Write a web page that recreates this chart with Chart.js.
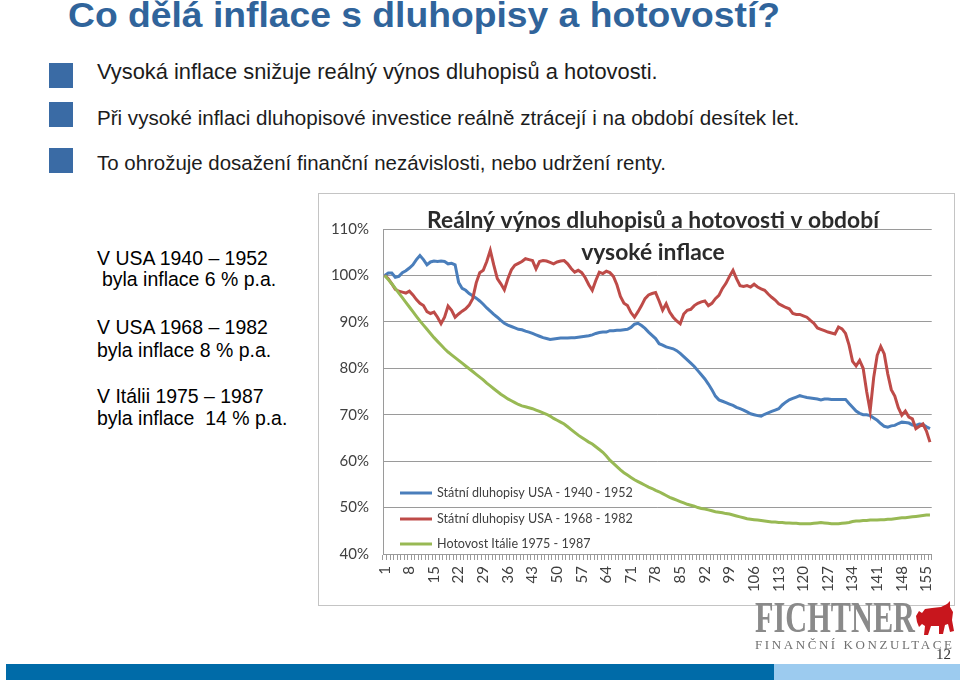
<!DOCTYPE html>
<html>
<head>
<meta charset="utf-8">
<script src="https://cdn.jsdelivr.net/npm/chart.js@4.4.1/dist/chart.umd.min.js"></script>
<style>
html,body{margin:0;padding:0;background:#fff;}
body{width:960px;height:680px;position:relative;overflow:hidden;font-family:"Liberation Sans",Arial,sans-serif;}
.abs{position:absolute;white-space:nowrap;}
#title{left:68px;top:-3px;font-family:"Liberation Sans",Arial,sans-serif;font-weight:bold;font-size:35px;line-height:35px;color:#30649B;transform-origin:0 0;}
.sq{position:absolute;left:49px;width:24px;height:25px;background:#3A6BA5;}
.bl{left:97px;font-size:17.5px;line-height:20px;color:#1c1c1c;}
.lt{font-size:17.5px;line-height:20px;color:#000;}
#box{position:absolute;left:318px;top:193px;width:637px;height:413px;border:1px solid #c4c4c4;box-sizing:border-box;background:#fff;}
#box canvas{display:block;}
#logo{left:755px;top:596px;font-family:"Liberation Serif","DejaVu Serif",serif;font-weight:bold;font-size:44px;line-height:44px;color:#8a8a8a;transform-origin:0 0;}
#logo2{left:755px;top:638px;font-family:"Liberation Serif","DejaVu Serif",serif;font-size:13px;line-height:14px;color:#707070;}
#page{left:936px;top:646px;font-family:"Liberation Serif","DejaVu Serif",serif;font-size:15px;line-height:16px;color:#333;}
.bar{position:absolute;top:664px;height:16px;}
</style>
</head>
<body>
<div id="title" class="abs">Co dělá inflace s dluhopisy a hotovostí?</div>

<div class="sq" style="top:63px"></div>
<div class="sq" style="top:102px"></div>
<div class="sq" style="top:148px"></div>
<div id="b1" class="abs bl" style="top:62px">Vysoká inflace snižuje reálný výnos dluhopisů a hotovosti.</div>
<div id="b2" class="abs bl" style="top:108px">Při vysoké inflaci dluhopisové investice reálně ztrácejí i na období desítek let.</div>
<div id="b3" class="abs bl" style="top:153px">To ohrožuje dosažení finanční nezávislosti, nebo udržení renty.</div>

<div id="l1" class="abs lt" style="left:97px;top:248px">V USA 1940 – 1952</div>
<div id="l2" class="abs lt" style="left:102px;top:269px">byla inflace 6 % p.a.</div>
<div id="l3" class="abs lt" style="left:97px;top:317px">V USA 1968 – 1982</div>
<div id="l4" class="abs lt" style="left:97px;top:340px">byla inflace 8 % p.a.</div>
<div id="l5" class="abs lt" style="left:97px;top:386px">V Itálii 1975 – 1987</div>
<div id="l6" class="abs lt" style="left:97px;top:408px">byla inflace &nbsp;14 % p.a.</div>

<div id="box"><canvas id="c" width="635" height="411"></canvas></div>

<div id="logo" class="abs">FICHTNER</div>
<svg class="abs" style="left:914px;top:601px" width="42" height="36" viewBox="0 0 42 36">
<path fill="#C8161D" d="M2 15 L5 10 L8 12 L11 8 L18 7 L27 6 L33 3 L36 0 L36 6 L39 11 L38 19 L40 30 L36 31 L34 23 L31 24 L29 33 L25 33 L25 25 L17 25 L14 34 L10 34 L11 25 L8 23 L5 26 L3 21 Z"/>
</svg>
<div id="logo2" class="abs">FINANČNÍ KONZULTACE</div>
<div id="page" class="abs">12</div>

<div class="bar" style="left:6px;width:768px;background:#006BA8"></div>
<div class="bar" style="left:774px;width:186px;background:#9CCBEF"></div>

<script>
// ---- data ----
const categories = Array.from({length:156}, (_, i) => String(i + 1));
const tickLabels = ['1','8','15','22','29','36','43','50','57','64','71','78','85','92','99','106','113','120','127','134','141','148','155'];
const seriesNames = ['Státní dluhopisy USA - 1940 - 1952','Státní dluhopisy USA - 1968 - 1982','Hotovost Itálie 1975 - 1987'];

const usa1940 = [100.0,100.5,100.5,99.6,99.8,100.6,101.0,101.6,102.3,103.4,
104.3,103.4,102.3,102.9,103.1,103.0,103.1,103.0,102.5,102.6,
102.3,98.5,97.2,96.8,96.1,95.6,95.1,94.5,93.8,93.0,
92.3,91.6,91.0,90.3,89.7,89.3,89.0,88.7,88.4,88.3,
88.0,87.8,87.5,87.2,86.9,86.6,86.4,86.2,86.3,86.4,
86.5,86.5,86.5,86.6,86.6,86.7,86.8,86.9,87.0,87.2,
87.5,87.7,87.8,87.8,88.1,88.1,88.2,88.2,88.3,88.4,
88.8,89.5,89.7,89.2,88.6,87.8,87.1,86.4,85.3,85.0,
84.6,84.4,84.2,83.8,83.2,82.5,81.8,81.1,80.4,79.5,
78.6,77.7,76.6,75.4,74.0,73.2,72.9,72.6,72.3,72.0,
71.6,71.3,71.0,70.6,70.2,70.0,69.8,69.7,70.1,70.4,
70.7,71.0,71.3,72.1,72.7,73.2,73.5,73.8,74.1,73.9,
73.7,73.6,73.5,73.4,73.2,73.4,73.4,73.3,73.3,73.3,
73.3,73.3,72.4,71.6,70.8,70.3,70.0,70.0,69.8,69.3,
68.8,68.1,67.5,67.3,67.6,67.7,68.1,68.4,68.3,68.2,
67.8,67.7,68.0,67.9,67.4,67.0];

const usa1968 = [100.0,99.3,98.2,97.0,96.6,96.4,96.2,96.6,95.8,94.8,
94.0,93.5,92.2,91.8,92.1,91.0,89.6,91.0,93.4,92.5,
91.0,91.7,92.3,92.8,93.6,95.0,98.4,100.6,101.1,103.0,
105.4,102.2,99.3,98.2,96.9,99.3,101.2,102.2,102.6,103.0,
103.6,103.4,103.2,101.4,103.0,103.2,103.1,102.8,102.5,102.9,
103.1,103.2,102.5,101.5,100.7,101.1,100.6,99.5,98.0,96.8,
98.9,100.7,100.4,100.9,100.6,99.8,98.0,95.5,94.0,93.5,
92.0,91.0,92.2,93.5,95.0,95.8,96.1,96.3,94.5,92.5,
93.9,92.1,91.0,90.2,89.6,91.7,92.5,92.7,93.5,94.0,
94.3,94.5,93.5,94.0,95.0,95.7,97.2,98.3,99.8,101.1,
99.3,97.8,97.6,97.8,97.5,98.1,97.5,97.1,96.8,96.0,
95.3,94.7,93.9,93.5,93.1,92.8,91.8,91.6,91.6,91.3,
91.0,90.3,89.7,88.7,88.4,88.1,87.8,87.6,87.4,88.9,
88.5,87.5,85.0,81.5,80.5,81.7,80.0,75.0,70.8,78.0,
82.8,84.7,83.1,78.8,75.4,74.0,71.5,69.9,70.8,69.5,
69.1,67.0,67.5,68.0,66.5,64.1];

const italy1975 = [100.0,99.1,98.2,97.2,96.2,95.2,94.2,93.2,92.2,91.2,
90.2,89.3,88.4,87.5,86.6,85.8,85.0,84.2,83.5,82.9,
82.3,81.7,81.1,80.5,79.9,79.3,78.7,78.1,77.5,76.8,
76.2,75.6,75.0,74.4,73.9,73.4,73.0,72.6,72.2,71.9,
71.7,71.5,71.3,71.0,70.7,70.4,70.1,69.7,69.2,68.8,
68.4,68.0,67.4,66.8,66.2,65.6,65.1,64.6,64.1,63.7,
63.1,62.5,61.9,61.1,60.2,59.5,58.8,58.1,57.5,57.0,
56.5,56.0,55.6,55.2,54.8,54.4,54.1,53.7,53.4,53.0,
52.6,52.2,51.9,51.6,51.3,51.0,50.7,50.5,50.3,50.0,
49.8,49.7,49.5,49.3,49.1,49.0,48.9,48.7,48.6,48.4,
48.2,48.0,47.8,47.6,47.5,47.4,47.3,47.2,47.1,47.0,
46.9,46.9,46.8,46.8,46.7,46.7,46.6,46.6,46.5,46.5,
46.5,46.5,46.6,46.7,46.8,46.7,46.6,46.5,46.5,46.5,
46.6,46.7,46.8,47.0,47.1,47.1,47.2,47.2,47.3,47.3,
47.3,47.4,47.4,47.5,47.5,47.6,47.7,47.8,47.8,47.9,
48.0,48.1,48.2,48.3,48.4,48.4];

const yTicks = [40,50,60,70,80,90,100,110];
const chartTitleLines = ['Reálný výnos dluhopisů a hotovosti v období','vysoké inflace'];

// ---- text fitting for the slide text ----
function fitFont(id, target){
  const el = document.getElementById(id);
  const w = el.getBoundingClientRect().width;
  const fs = parseFloat(getComputedStyle(el).fontSize);
  const nfs = fs * target / w;
  el.style.fontSize = nfs + 'px';
  return nfs;
}
function fitScale(id, target){
  const el = document.getElementById(id);
  const w = el.getBoundingClientRect().width;
  el.style.transform = 'scaleX(' + (target / w) + ')';
}
fitScale('title', 712);
fitFont('b1', 561); fitFont('b2', 703); fitFont('b3', 569);
const leftSize = fitFont('l1', 171);
['l2','l3','l4','l5','l6'].forEach(id => { document.getElementById(id).style.fontSize = leftSize + 'px'; });
fitScale('logo', 160);
(function(){
  const el = document.getElementById('logo2');
  const txt = el.textContent;
  const w = el.getBoundingClientRect().width;
  el.style.letterSpacing = ((197 - w) / (txt.length - 1)) + 'px';
})();

// ---- chart ----
const FONT = 'Lato, "Open Sans", sans-serif';
const titlePlugin = {
  id: 'overlayTitle',
  afterDraw(chart){
    const ctx = chart.ctx;
    ctx.save();
    ctx.fillStyle = '#2b2b2b';
    ctx.textAlign = 'center';
    ctx.textBaseline = 'alphabetic';
    const fs = 23;
    ctx.font = 'bold ' + fs + 'px ' + FONT;
    const w = ctx.measureText(chartTitleLines[0]).width;
    const sx = 452 / w;
    const cx = 334;
    ctx.translate(cx, 0);
    ctx.scale(sx, 1);
    ctx.fillText(chartTitleLines[0], 0, chart.chartArea.top - 1);
    ctx.fillText(chartTitleLines[1], 0, chart.chartArea.top + 31);
    ctx.restore();
  }
};
const legendPlugin = {
  id: 'insideLegend',
  afterDraw(chart){
    const ctx = chart.ctx, a = chart.chartArea;
    ctx.save();
    ctx.font = '12px ' + FONT;
    const w = ctx.measureText(chart.data.datasets[0].label).width;
    const fs = 12 * 196 / w;
    ctx.font = fs + 'px ' + FONT;
    ctx.textBaseline = 'middle';
    ctx.textAlign = 'left';
    const offs = [61, 35, 10];
    chart.data.datasets.forEach((ds, i) => {
      const y = a.bottom - offs[i];
      ctx.strokeStyle = ds.borderColor;
      ctx.lineWidth = 3;
      ctx.beginPath();
      ctx.moveTo(a.left + 17, y);
      ctx.lineTo(a.left + 49, y);
      ctx.stroke();
      ctx.fillStyle = '#404040';
      ctx.fillText(ds.label, a.left + 54, y);
    });
    ctx.restore();
  }
};

new Chart(document.getElementById('c'), {
  type: 'line',
  data: {
    labels: categories,
    datasets: [
      {label: seriesNames[0], data: usa1940, borderColor: '#4A7EBB', backgroundColor: '#4A7EBB', borderWidth: 3, pointRadius: 0, tension: 0, order: 3},
      {label: seriesNames[1], data: usa1968, borderColor: '#BE4B48', backgroundColor: '#BE4B48', borderWidth: 3, pointRadius: 0, tension: 0, order: 2},
      {label: seriesNames[2], data: italy1975, borderColor: '#98B954', backgroundColor: '#98B954', borderWidth: 3, pointRadius: 0, tension: 0, order: 1}
    ]
  },
  options: {
    responsive: false,
    animation: false,
    devicePixelRatio: 1,
    layout: {padding: {left: 10, right: 11, top: 35, bottom: 4}},
    plugins: {legend: {display: false}, tooltip: {enabled: false}, title: {display: false}},
    scales: {
      x: {
        offset: true,
        grid: {display: true, drawOnChartArea: false, drawTicks: true, tickLength: 6, color: '#9a9a9a', offset: true},
        border: {display: true, color: '#9a9a9a'},
        ticks: {
          autoSkip: false, maxRotation: 90, minRotation: 90, padding: 6,
          font: {family: FONT, size: 15}, color: '#404040',
          callback: (v, i) => tickLabels.includes(categories[i]) ? categories[i] : ''
        },
        afterFit: s => { s.height = 47; }
      },
      y: {
        min: yTicks[0], max: yTicks[yTicks.length - 1],
        afterBuildTicks: s => { s.ticks = yTicks.map(v => ({value: v})); },
        ticks: {padding: 14, font: {family: FONT, size: 15}, color: '#404040', callback: v => v + '%'},
        grid: {color: '#9a9a9a', drawTicks: false},
        border: {display: true, color: '#9a9a9a'},
        afterFit: s => { s.width = 54; }
      }
    }
  },
  plugins: [titlePlugin, legendPlugin]
});
</script>
</body>
</html>
